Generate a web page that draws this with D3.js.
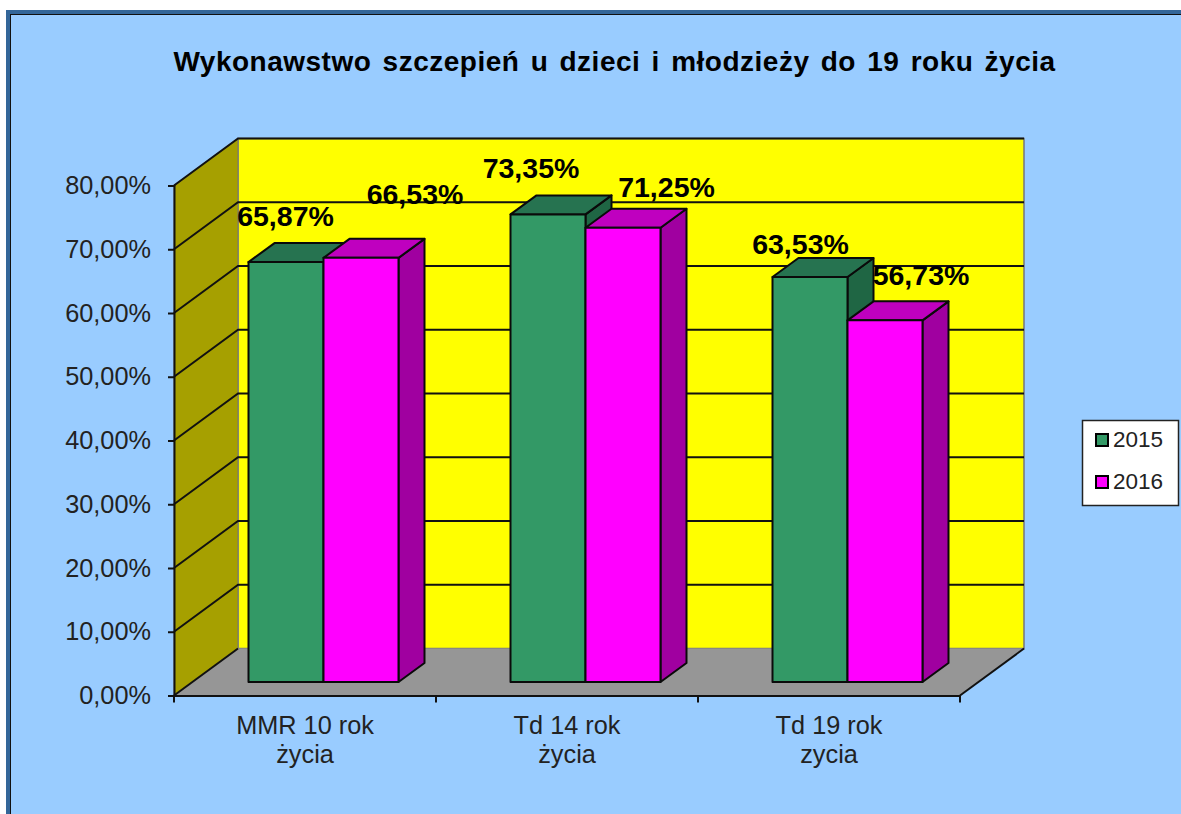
<!DOCTYPE html>
<html>
<head>
<meta charset="utf-8">
<script src="https://cdn.jsdelivr.net/npm/d3@7"></script>
<style>
  html, body { margin: 0; padding: 0; background: #fff; overflow: hidden; }
  svg { display: block; font-family: "Liberation Sans", Arial, sans-serif; }
  .tick text { fill: #222; font-size: 25.3px; }
</style>
</head>
<body>
<div id="chart"></div>
<script>
var chartTitle = "Wykonawstwo szczepień u dzieci i młodzieży do 19 roku życia";
var categories = ["MMR 10 rok|życia", "Td 14 rok|życia", "Td 19 rok|zycia"];
var seriesNames = ["2015", "2016"];
var values2015 = [65.87, 73.35, 63.53];
var values2016 = [66.53, 71.25, 56.73];
var yTicks = [0, 10, 20, 30, 40, 50, 60, 70, 80];

// hand placed data labels, offset from the middle of the bar's top edge
var labelShift2015 = [[-0.5, -36], [-17, -36], [-9.5, -23]];
var labelShift2016 = [[54, -54], [43.5, -31], [36, -35]];

var width = 1181, height = 814;
var wallDx = 64, wallDy = -47;   // depth of the 3d box
var barDx = 26, barDy = -19;     // depth of a bar
var gapDx = 18.5, gapDy = -13.5; // bar offset from the front of the floor

var fmt = function(v) { return v.toFixed(2).replace(".", ",") + "%"; };

var svg = d3.select("#chart").append("svg").attr("width", width).attr("height", height);

// panel
svg.append("rect").attr("x", 8).attr("y", 12).attr("width", width).attr("height", height)
  .attr("fill", "#99ccff").attr("stroke", "#336699").attr("stroke-width", 4);
svg.append("rect").attr("x", 10.5).attr("y", 14.5).attr("width", width).attr("height", height)
  .attr("fill", "none").attr("stroke", "#111").attr("stroke-width", 1);

svg.append("text").attr("x", 614.5).attr("y", 71)
  .attr("text-anchor", "middle").attr("font-size", 28).attr("font-weight", "bold")
  .attr("word-spacing", 3).attr("letter-spacing", 0.5).attr("fill", "#000").text(chartTitle);

var x = d3.scaleBand().domain(categories).range([174, 960]);
var y = d3.scaleLinear().domain([0, 80]).range([695.5, 185.5]);
var barX = d3.scaleBand().domain(seriesNames).range([0, 150]);
var pad = (x.bandwidth() - 150) / 2;

var line = function(pts) { return "M" + pts.join("L") + "Z"; };
var x0 = x.range()[0], x1 = x.range()[1];
var y0 = y(0), yTop = y(80);

// back wall, side wall, floor
svg.append("path").attr("fill", "#ffff00").attr("stroke", "#777").attr("stroke-width", 1.5)
  .attr("d", line([[x0 + wallDx, y0 + wallDy], [x0 + wallDx, yTop + wallDy], [x1 + wallDx, yTop + wallDy], [x1 + wallDx, y0 + wallDy]]));
svg.append("path").attr("fill", "#a6a000").attr("stroke", "#777").attr("stroke-width", 1)
  .attr("d", line([[x0, y0], [x0, yTop], [x0 + wallDx, yTop + wallDy], [x0 + wallDx, y0 + wallDy]]));
svg.append("path").attr("fill", "#969696").attr("stroke", "none")
  .attr("d", line([[x0, y0], [x1, y0], [x1 + wallDx, y0 + wallDy], [x0 + wallDx, y0 + wallDy]]));

// grid lines run along the side wall and across the back wall
svg.append("g").selectAll("path").data(yTicks.slice(1)).enter().append("path")
  .attr("fill", "none").attr("stroke", "#111").attr("stroke-width", 2)
  .attr("d", function(d) {
    return "M" + [[x0, y(d)], [x0 + wallDx, y(d) + wallDy], [x1 + wallDx, y(d) + wallDy]].join("L");
  });
svg.append("path").attr("fill", "none").attr("stroke", "#111").attr("stroke-width", 2)
  .attr("d", "M" + [[x0, y0], [x0 + wallDx, y0 + wallDy]].join("L"));
svg.append("path").attr("fill", "none").attr("stroke", "#111").attr("stroke-width", 2)
  .attr("d", "M" + [[x1, y0], [x1 + wallDx, y0 + wallDy]].join("L"));

// bars
var series = [
  { name: seriesNames[0], values: values2015, front: "#339966", top: "#267350", side: "#1f6644", shift: labelShift2015 },
  { name: seriesNames[1], values: values2016, front: "#ff00ff", top: "#bf00bf", side: "#a000a0", shift: labelShift2016 }
];
var bars = [];
categories.forEach(function(c, i) {
  series.forEach(function(s) {
    bars.push({ cat: c, name: s.name, value: s.values[i], s: s, shift: s.shift[i] });
  });
});

var bar = svg.append("g").selectAll("g").data(bars).enter().append("g")
  .attr("stroke", "#0a0a0a").attr("stroke-width", 2).attr("stroke-linejoin", "round");
var left = function(d) { return x(d.cat) + pad + barX(d.name) + gapDx; };
var right = function(d) { return left(d) + barX.bandwidth(); };
var base = y0 + gapDy;
var topY = function(d) { return y(d.value) + gapDy; };

bar.append("path").attr("fill", function(d) { return d.s.side; }).attr("d", function(d) {
  return line([[right(d), base], [right(d), topY(d)], [right(d) + barDx, topY(d) + barDy], [right(d) + barDx, base + barDy]]);
});
bar.append("path").attr("fill", function(d) { return d.s.top; }).attr("d", function(d) {
  return line([[left(d), topY(d)], [right(d), topY(d)], [right(d) + barDx, topY(d) + barDy], [left(d) + barDx, topY(d) + barDy]]);
});
bar.append("rect").attr("fill", function(d) { return d.s.front; })
  .attr("x", left).attr("y", topY)
  .attr("width", barX.bandwidth())
  .attr("height", function(d) { return base - topY(d); });

// data labels
svg.append("g").selectAll("text").data(bars).enter().append("text")
  .attr("text-anchor", "middle").attr("font-size", 28.5).attr("font-weight", "bold").attr("fill", "#000")
  .attr("x", function(d) { return (left(d) + right(d)) / 2 + d.shift[0]; })
  .attr("y", function(d) { return topY(d) + d.shift[1]; })
  .text(function(d) { return fmt(d.value); });

// axes
var yAxis = svg.append("g").attr("transform", "translate(" + x0 + ",0)")
  .call(d3.axisLeft(y).tickValues(yTicks).tickFormat(fmt).tickSize(6).tickPadding(17));
var xAxis = svg.append("g").attr("transform", "translate(0," + y0 + ")")
  .call(d3.axisBottom(x).tickSize(0).tickPadding(18).tickFormat(""));
[yAxis, xAxis].forEach(function(a) {
  a.selectAll("line, path").attr("stroke", "#111").attr("stroke-width", 2);
});
xAxis.selectAll(".tick text").attr("dy", null).each(function(d) {
  var t = d3.select(this).text(null);
  d.split("|").forEach(function(part, i) {
    t.append("tspan").attr("x", 0).attr("y", 38 + i * 29).text(part);
  });
});
// category separators sit between the bands
xAxis.selectAll("line.sep").data(x.domain().map(function(c) { return x(c); }).concat([x1])).enter().append("line")
  .attr("class", "sep").attr("stroke", "#111").attr("stroke-width", 2)
  .attr("x1", function(d) { return d; }).attr("x2", function(d) { return d; })
  .attr("y1", 0).attr("y2", 7);

// legend
var legend = svg.append("g").attr("transform", "translate(1082,420)");
legend.append("rect").attr("x", 0.5).attr("y", 0.5).attr("width", 96).attr("height", 85)
  .attr("fill", "#fff").attr("stroke", "#222").attr("stroke-width", 1.5);
var item = legend.selectAll("g").data(series).enter().append("g")
  .attr("transform", function(d, i) { return "translate(0," + (14 + i * 42) + ")"; });
item.append("rect").attr("x", 14).attr("y", 0).attr("width", 12).attr("height", 12)
  .attr("fill", function(d) { return d.front; }).attr("stroke", "#000").attr("stroke-width", 2);
item.append("text").attr("x", 31).attr("y", 13).attr("font-size", 22.5).attr("fill", "#222")
  .text(function(d) { return d.name; });
</script>
</body>
</html>
